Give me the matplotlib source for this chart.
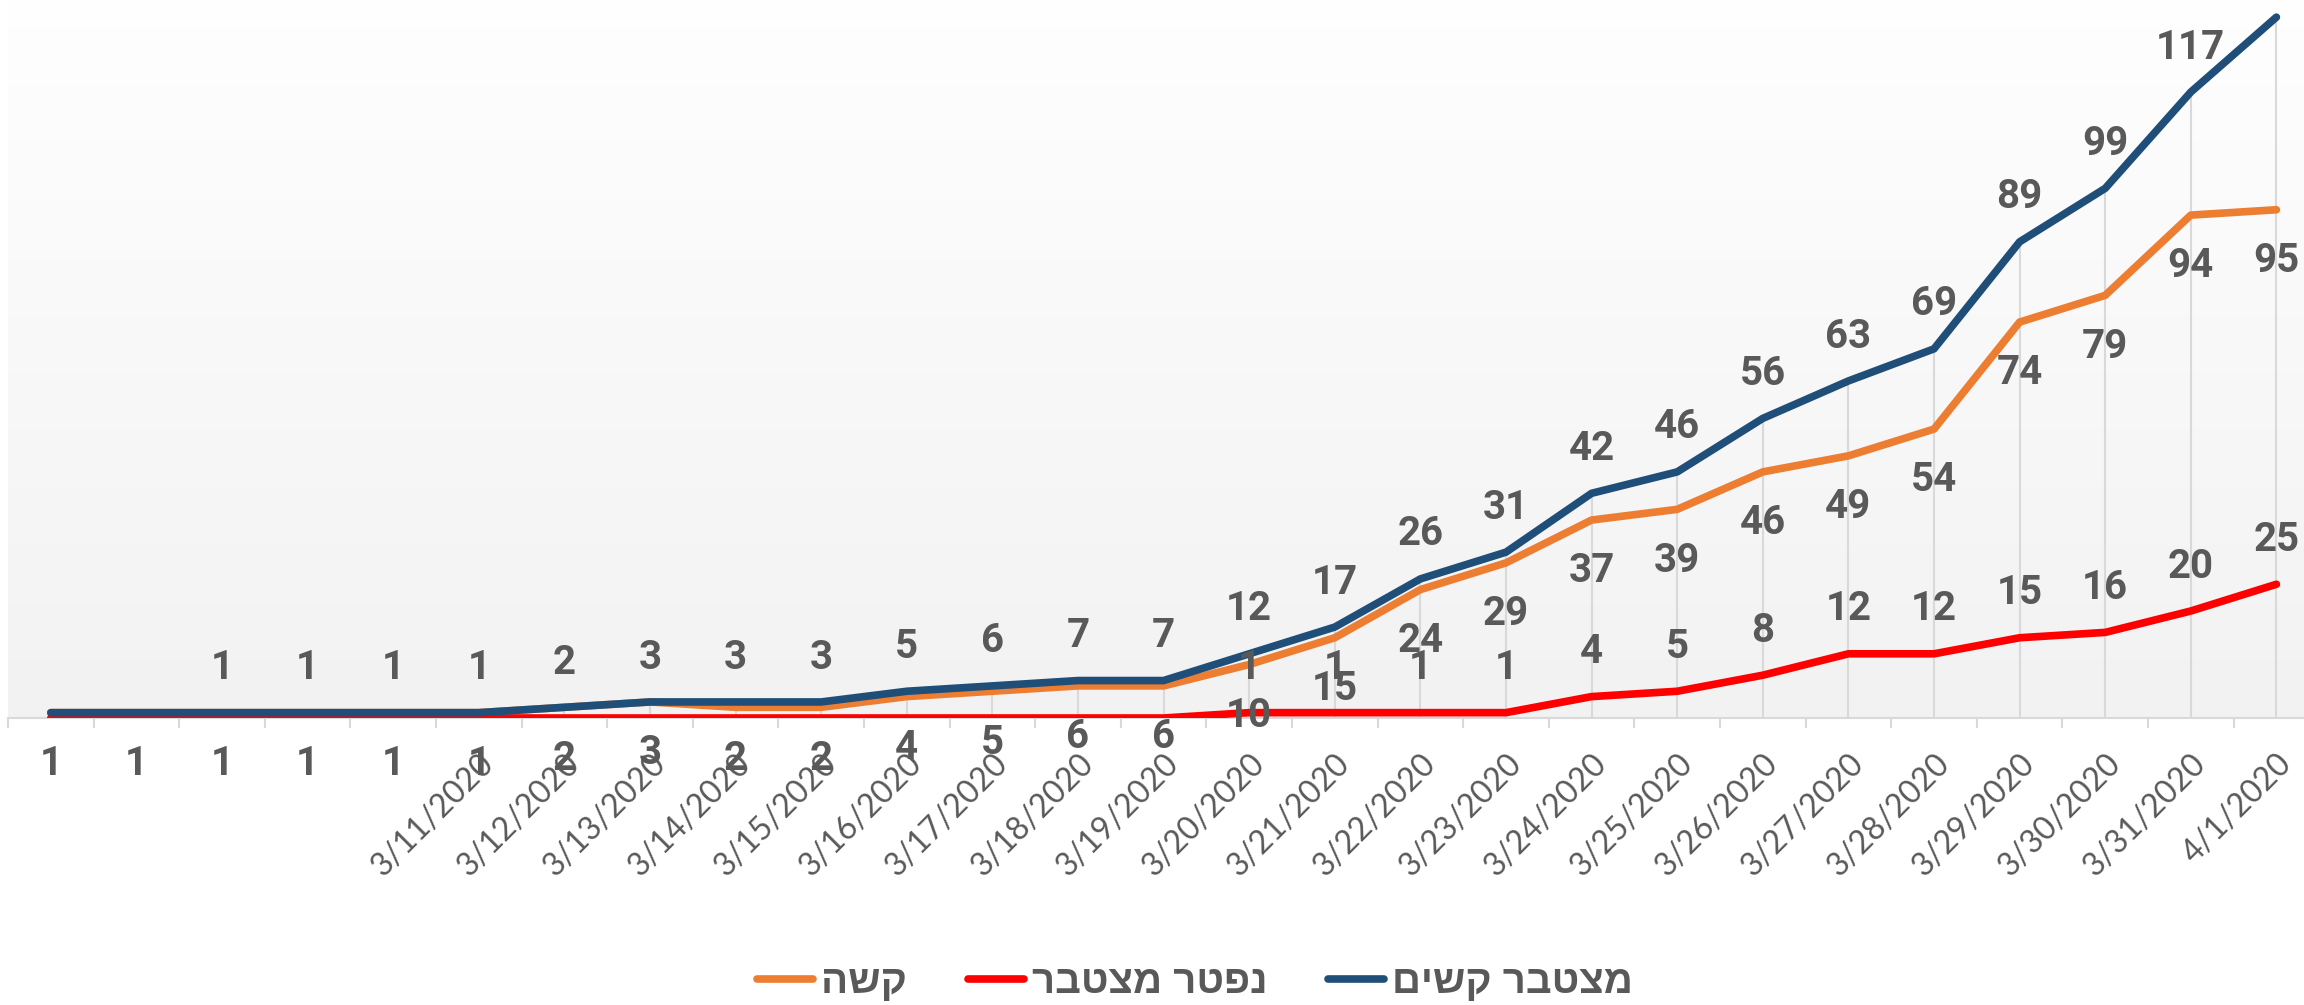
import numpy as np
import matplotlib.pyplot as plt
from matplotlib.colors import LinearSegmentedColormap
from matplotlib.lines import Line2D

# categories (first five date labels are hidden in the original)
dates = ['3/6/2020', '3/7/2020', '3/8/2020', '3/9/2020', '3/10/2020',
         '3/11/2020', '3/12/2020', '3/13/2020', '3/14/2020', '3/15/2020',
         '3/16/2020', '3/17/2020', '3/18/2020', '3/19/2020', '3/20/2020',
         '3/21/2020', '3/22/2020', '3/23/2020', '3/24/2020', '3/25/2020',
         '3/26/2020', '3/27/2020', '3/28/2020', '3/29/2020', '3/30/2020',
         '3/31/2020', '4/1/2020']
first_date_shown = 5

# series
severe = [1, 1, 1, 1, 1, 1, 2, 3, 2, 2, 4, 5, 6, 6, 10, 15, 24, 29, 37, 39,
          46, 49, 54, 74, 79, 94, 95]
dead_cum = [0, 0, 0, 0, 0, 0, 0, 0, 0, 0, 0, 0, 0, 0, 1, 1, 1, 1, 4, 5,
            8, 12, 12, 15, 16, 20, 25]
severe_cum = [1, 1, 1, 1, 1, 1, 2, 3, 3, 3, 5, 6, 7, 7, 12, 17, 26, 31, 42, 46,
              56, 63, 69, 89, 99, 117, 131]
severe_cum_label_from = 2

names = ['קשה', 'נפטר מצטבר', 'מצטבר קשים']
colors = ['#ED7D31', '#FF0000', '#1F4E79']

grey = '#595959'
num_font = ['Roboto', 'DejaVu Sans']
date_font = ['Lato', 'DejaVu Sans']
heb_font = ['Liberation Sans', 'DejaVu Sans']

def rtl(s):
    # matplotlib has no bidi support, so flip hebrew for display
    return s[::-1]

W, H = 2304, 1005
fig = plt.figure(figsize=(W / 100, H / 100), dpi=100)
fig.patch.set_facecolor('white')

x = np.arange(len(dates))
ymax = 140
ax_left, ax_w = 8 / W, 27 * 85.6 / W
ax_bottom = (H - 718) / H
ax_h = ymax * 5.35 / H
ax = fig.add_axes([ax_left, ax_bottom, ax_w, ax_h])

# plot area gradient
cmap = LinearSegmentedColormap.from_list('bg', ['#f2f2f2', '#ffffff'])
ax.imshow(np.linspace(0, 1, 256).reshape(-1, 1), cmap=cmap, origin='lower',
          extent=[-0.5, len(dates) - 0.5, 0, ymax], aspect='auto', zorder=0)

# drop lines from the top series down to the axis
ax.vlines(x, 0, severe_cum, color='#d9d9d9', lw=1.5, zorder=1)

ax.plot(x, severe, color=colors[0], lw=5.5, solid_capstyle='round',
        solid_joinstyle='round', zorder=3)
ax.plot(x, dead_cum, color=colors[1], lw=5.5, solid_capstyle='round',
        solid_joinstyle='round', zorder=4)
ax.plot(x, severe_cum, color=colors[2], lw=5.5, solid_capstyle='round',
        solid_joinstyle='round', zorder=5)

lab = dict(textcoords='offset points', ha='center', va='center', color=grey,
           fontsize=29, fontweight='bold', family=num_font, zorder=6)
for i, v in enumerate(severe):
    ax.annotate(str(v), (i, v), xytext=(0, -37), **lab)
for i, v in enumerate(dead_cum):
    if v > 0:
        ax.annotate(str(v), (i, v), xytext=(0, 32), **lab)
for i, v in enumerate(severe_cum):
    if i >= severe_cum_label_from:
        ax.annotate(str(v), (i, v), xytext=(0, 32), **lab)

ax.set_xlim(-0.5, len(dates) - 0.5)
ax.set_ylim(0, ymax)

# labels on categories, tick marks between them
tick_labels = ['' if i < first_date_shown else d for i, d in enumerate(dates)]
ax.set_xticks(x)
ax.set_xticklabels(tick_labels, rotation=45, ha='right', va='top',
                   rotation_mode='anchor', color=grey, fontsize=23,
                   family=date_font)
ax.tick_params(axis='x', which='major', length=0, pad=22)
ax.set_xticks(np.arange(-0.5, len(dates)), minor=True)
ax.tick_params(axis='x', which='minor', length=7, width=1.5, color='#d9d9d9',
               direction='out')
ax.set_yticks([])
for s in ['top', 'right', 'left']:
    ax.spines[s].set_visible(False)
ax.spines['bottom'].set_color('#d9d9d9')
ax.spines['bottom'].set_linewidth(1.5)

handles = [Line2D([], [], color=c, lw=5.5, solid_capstyle='round') for c in colors]
leg = fig.legend(handles, [rtl(n) for n in names], loc='center',
                 bbox_to_anchor=(1195 / W, 1 - 982 / H), ncol=3, frameon=False,
                 handlelength=1.4, handletextpad=0.2, columnspacing=1.5,
                 prop={'family': heb_font, 'weight': 'bold', 'size': 29})
for t in leg.get_texts():
    t.set_color(grey)

fig.savefig('out.png', dpi=100, facecolor='white')
